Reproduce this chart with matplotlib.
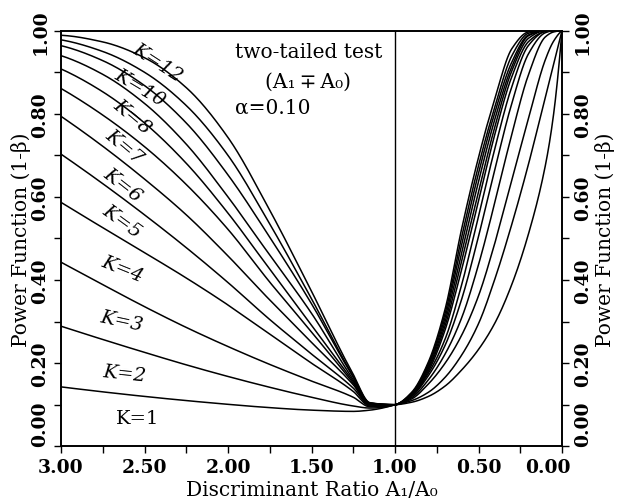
import numpy as np
import matplotlib
matplotlib.use("Agg")
import matplotlib.pyplot as plt
from matplotlib.ticker import MultipleLocator, FormatStrFormatter
from matplotlib.transforms import ScaledTranslation

plt.rcParams["font.family"] = ["DejaVu Serif"]

# Power function (1-beta) of the two-tailed test, alpha = 0.10
K_values = [1, 2, 3, 4, 5, 6, 7, 8, 9, 10, 11, 12]

# Discriminant ratio A1/A0 above 1 (left half of the chart)
ratio_high = [3.00, 2.75, 2.50, 2.25, 2.00, 1.75, 1.50, 1.25, 1.15, 1.00]
power_high = {
    1:  [0.143, 0.131, 0.120, 0.110, 0.101, 0.093, 0.087, 0.084, 0.087, 0.100],
    2:  [0.289, 0.257, 0.226, 0.196, 0.168, 0.142, 0.118, 0.097, 0.092, 0.100],
    3:  [0.443, 0.389, 0.336, 0.286, 0.240, 0.197, 0.157, 0.118, 0.095, 0.100],
    4:  [0.587, 0.526, 0.466, 0.405, 0.340, 0.270, 0.200, 0.132, 0.097, 0.100],
    5:  [0.703, 0.632, 0.557, 0.478, 0.394, 0.305, 0.222, 0.140, 0.099, 0.100],
    6:  [0.794, 0.722, 0.643, 0.557, 0.458, 0.352, 0.250, 0.148, 0.100, 0.100],
    7:  [0.861, 0.797, 0.721, 0.630, 0.522, 0.395, 0.275, 0.152, 0.101, 0.100],
    8:  [0.908, 0.853, 0.778, 0.681, 0.561, 0.426, 0.291, 0.156, 0.102, 0.100],
    9:  [0.940, 0.895, 0.825, 0.727, 0.600, 0.460, 0.320, 0.160, 0.103, 0.100],
    10: [0.964, 0.928, 0.868, 0.778, 0.653, 0.503, 0.343, 0.166, 0.104, 0.100],
    11: [0.978, 0.950, 0.900, 0.820, 0.700, 0.535, 0.355, 0.168, 0.104, 0.100],
    12: [0.989, 0.973, 0.935, 0.863, 0.743, 0.568, 0.373, 0.173, 0.105, 0.100],
}

# Discriminant ratio A1/A0 below 1 (right half of the chart)
ratio_low = [1.00, 0.90, 0.80, 0.70, 0.60, 0.50, 0.40, 0.30, 0.20, 0.10, 0.05, 0.00]
power_low = {
    1:  [0.100, 0.106, 0.120, 0.145, 0.184, 0.233, 0.298, 0.390, 0.512, 0.675, 0.800, 1.000],
    2:  [0.100, 0.110, 0.130, 0.166, 0.220, 0.295, 0.405, 0.535, 0.680, 0.840, 0.920, 1.000],
    3:  [0.100, 0.114, 0.150, 0.200, 0.268, 0.362, 0.492, 0.641, 0.790, 0.930, 0.975, 1.000],
    4:  [0.100, 0.117, 0.160, 0.222, 0.310, 0.437, 0.590, 0.752, 0.895, 0.985, 0.997, 1.000],
    5:  [0.100, 0.120, 0.170, 0.243, 0.355, 0.505, 0.670, 0.826, 0.945, 0.995, 1.000, 1.000],
    6:  [0.100, 0.122, 0.176, 0.258, 0.390, 0.553, 0.720, 0.866, 0.965, 0.998, 1.000, 1.000],
    7:  [0.100, 0.124, 0.181, 0.280, 0.427, 0.590, 0.754, 0.890, 0.974, 0.998, 1.000, 1.000],
    8:  [0.100, 0.125, 0.186, 0.290, 0.447, 0.612, 0.772, 0.904, 0.982, 1.000, 1.000, 1.000],
    9:  [0.100, 0.126, 0.190, 0.300, 0.467, 0.637, 0.790, 0.914, 0.988, 1.000, 1.000, 1.000],
    10: [0.100, 0.127, 0.195, 0.310, 0.487, 0.657, 0.806, 0.925, 0.990, 1.000, 1.000, 1.000],
    11: [0.100, 0.128, 0.199, 0.320, 0.505, 0.675, 0.820, 0.940, 0.994, 1.000, 1.000, 1.000],
    12: [0.100, 0.130, 0.203, 0.330, 0.525, 0.695, 0.840, 0.957, 0.997, 1.000, 1.000, 1.000],
}

# Curve labels: (K, text, x, y, rotation)
curve_labels = [
    (12, "K=12", 2.42, 0.925, -33),
    (10, "K=10", 2.53, 0.865, -31),
    (8, "K=8", 2.575, 0.795, -40),
    (7, "K=7", 2.62, 0.722, -40),
    (6, "K=6", 2.63, 0.630, -38),
    (5, "K=5", 2.635, 0.542, -36),
    (4, "K=4", 2.635, 0.428, -22),
    (3, "K=3", 2.635, 0.302, -12),
    (2, "K=2", 2.62, 0.176, -6),
    (1, "K=1", 2.54, 0.068, 0),
]

x_ticks = [3.00, 2.50, 2.00, 1.50, 1.00, 0.50, 0.00]
y_ticks = [0.00, 0.20, 0.40, 0.60, 0.80, 1.00]


def pchip(x, y, xs):
    """Monotone piecewise cubic Hermite curve through (x, y), x increasing."""
    x = np.asarray(x, float)
    y = np.asarray(y, float)
    h = np.diff(x)
    delta = np.diff(y) / h
    n = len(x)
    d = np.zeros(n)
    for k in range(1, n - 1):
        if delta[k - 1] * delta[k] > 0:
            w1 = 2 * h[k] + h[k - 1]
            w2 = h[k] + 2 * h[k - 1]
            d[k] = (w1 + w2) / (w1 / delta[k - 1] + w2 / delta[k])

    def end(h0, h1, d0, d1):
        v = ((2 * h0 + h1) * d0 - h0 * d1) / (h0 + h1)
        if np.sign(v) != np.sign(d0):
            return 0.0
        if np.sign(d0) != np.sign(d1) and abs(v) > abs(3 * d0):
            return 3 * d0
        return v

    d[0] = end(h[0], h[1], delta[0], delta[1])
    d[-1] = end(h[-1], h[-2], delta[-1], delta[-2])
    idx = np.clip(np.searchsorted(x, xs) - 1, 0, n - 2)
    t = (xs - x[idx]) / h[idx]
    h00 = 2 * t**3 - 3 * t**2 + 1
    h10 = t**3 - 2 * t**2 + t
    h01 = -2 * t**3 + 3 * t**2
    h11 = t**3 - t**2
    return (h00 * y[idx] + h10 * h[idx] * d[idx]
            + h01 * y[idx + 1] + h11 * h[idx] * d[idx + 1])


fig = plt.figure(figsize=(6.19, 5.02), dpi=100)
ax = fig.add_axes([61 / 619, 54.7 / 502, 501 / 619, 415.6 / 502])

for K in K_values:
    for xs_data, ys_data in ((ratio_high, power_high[K]), (ratio_low, power_low[K])):
        xd = np.array(xs_data[::-1])
        yd = np.array(ys_data[::-1])
        xs = np.linspace(xd[0], xd[-1], 400)
        ax.plot(xs, np.clip(pchip(xd, yd, xs), 0, 1), color="black", lw=1.1)

ax.axvline(1.0, color="black", lw=1.0)

for K, txt, x, y, rot in curve_labels:
    ax.text(x, y, txt, rotation=rot, ha="center", va="center",
            fontsize=14, style="normal" if K == 1 else "italic",
            rotation_mode="anchor", color="black")

ax.text(1.958, 0.951, "two\u2010tailed test", fontsize=14.5, ha="left", va="center")
ax.text(1.52, 0.879, "(A\u2081\u2009\u2213\u2009A\u2080)", fontsize=14.5,
        ha="center", va="center")
ax.text(1.958, 0.816, "\u03b1=0.10", fontsize=14.5, ha="left", va="center")

ax.set_xlim(3.0, 0.0)
ax.set_ylim(0.0, 1.0)
ax.set_xticks(x_ticks)
ax.xaxis.set_major_formatter(FormatStrFormatter("%.2f"))
ax.xaxis.set_minor_locator(MultipleLocator(0.25))
ax.set_yticks(y_ticks)
ax.yaxis.set_major_formatter(FormatStrFormatter("%.2f"))
ax.yaxis.set_minor_locator(MultipleLocator(0.1))
ax.tick_params(axis="both", which="both", direction="out", width=1.0,
               length=5, labelsize=13.5)
for lab in ax.get_xticklabels() + ax.get_yticklabels():
    lab.set_fontweight("bold")
for lab in ax.get_yticklabels():
    lab.set_rotation(90)
    lab.set_va("center")
ax.get_yticklabels()[0].set_va("bottom")
last_x = ax.get_xticklabels()[-1]
last_x.set_transform(last_x.get_transform()
                     + ScaledTranslation(-0.14, 0, fig.dpi_scale_trans))
for s in ax.spines.values():
    s.set_linewidth(1.2)

ax.set_xlabel("Discriminant Ratio A\u2081/A\u2080", fontsize=14.5, labelpad=3)
ax.set_ylabel("Power Function (1-\u03b2)", fontsize=14.5, labelpad=0)

ax2 = ax.twinx()
ax2.set_ylim(0.0, 1.0)
ax2.set_yticks(y_ticks)
ax2.yaxis.set_major_formatter(FormatStrFormatter("%.2f"))
ax2.yaxis.set_minor_locator(MultipleLocator(0.1))
ax2.tick_params(axis="y", which="both", direction="out", length=5, width=1.0,
                labelsize=13.5)
for lab in ax2.get_yticklabels():
    lab.set_rotation(90)
    lab.set_va("center")
    lab.set_fontweight("bold")
ax2.get_yticklabels()[0].set_va("bottom")
ax2.set_ylabel("Power Function (1-\u03b2)", fontsize=14.5, labelpad=2)
for s in ax2.spines.values():
    s.set_linewidth(1.2)

fig.savefig("out.png", dpi=100)
